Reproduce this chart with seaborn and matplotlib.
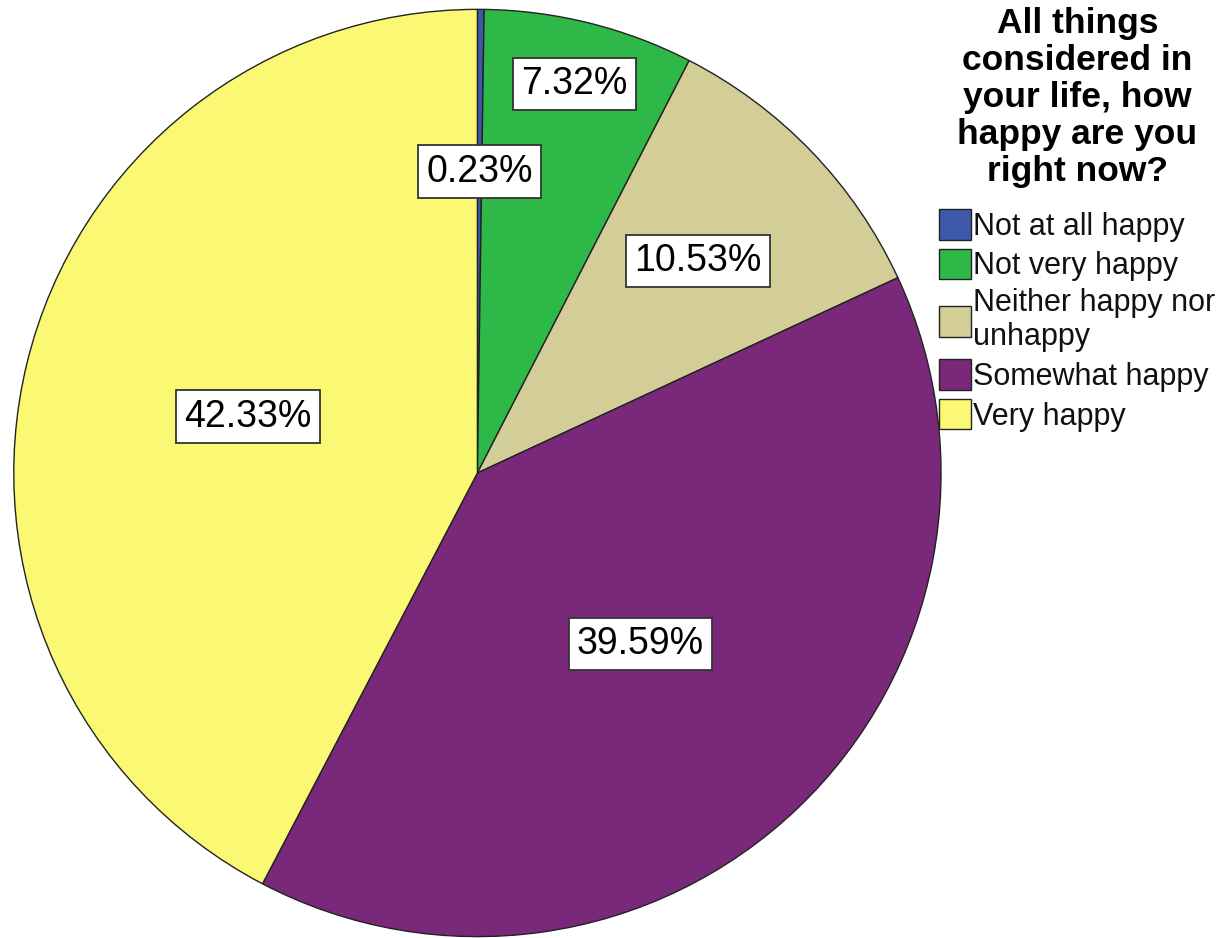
import matplotlib
matplotlib.use("Agg")
import matplotlib.pyplot as plt
import seaborn as sns
import numpy as np

# happiness survey shares (clockwise from 12 o'clock)
categories = ["Not at all happy", "Not very happy", "Neither happy nor\nunhappy",
              "Somewhat happy", "Very happy"]
shares = [0.23, 7.32, 10.53, 39.59, 42.33]
pct_labels = ["0.23%", "7.32%", "10.53%", "39.59%", "42.33%"]
label_dist = [0.65, 0.865, 0.66, 0.51, 0.51]
legend_title = "All things\nconsidered in\nyour life, how\nhappy are you\nright now?"

sns.set_theme(style="white")
plt.rcParams['font.family'] = ['Liberation Sans', 'DejaVu Sans']
plt.rcParams['text.color'] = 'black'

colors = sns.color_palette(["#3E58AC", "#2EB848", "#D3CE97", "#7A287A", "#FBF873"])

fig = plt.figure(figsize=(12.26, 9.38), dpi=100)
ax = fig.add_axes([0.0101, 0.0, 0.7586, 0.9915])

wedges, _ = ax.pie(shares, colors=colors, startangle=90, counterclock=False,
                   radius=1.0, wedgeprops=dict(edgecolor="#222222", linewidth=1.0))
ax.set_xlim(-1.003, 1.003)
ax.set_ylim(-1.003, 1.003)
ax.set_aspect("equal")
ax.axis("off")

# labels at wedge mid-angles
for w, txt, d in zip(wedges, pct_labels, label_dist):
    ang = np.deg2rad((w.theta1 + w.theta2) / 2)
    ax.text(d * np.cos(ang), d * np.sin(ang), txt, ha="center", va="center",
            fontsize=27, color="black",
            bbox=dict(boxstyle="square,pad=0.22", facecolor="white",
                      edgecolor="#333333", linewidth=1.3))

leg = fig.legend(wedges, categories, loc="upper left",
                 bbox_to_anchor=(921 / 1226, 1.012), frameon=False,
                 fontsize=22, title=legend_title,
                 title_fontproperties=dict(weight="bold", size=25.5),
                 handlelength=1.02, handleheight=1.15, handletextpad=0.08,
                 labelspacing=0.23, borderpad=0.1)
leg._legend_box.sep = 15.5  # extra gap under the title
leg.get_title().set_linespacing(1.15)
leg.get_title().set_multialignment("center")
leg.get_title().set_color("black")
for t in leg.get_texts():
    t.set_linespacing(1.18)
    t.set_color("#111111")
for h in leg.legend_handles:
    h.set_edgecolor("#222222")
    h.set_linewidth(1.0)

fig.savefig("out.png", dpi=100)
